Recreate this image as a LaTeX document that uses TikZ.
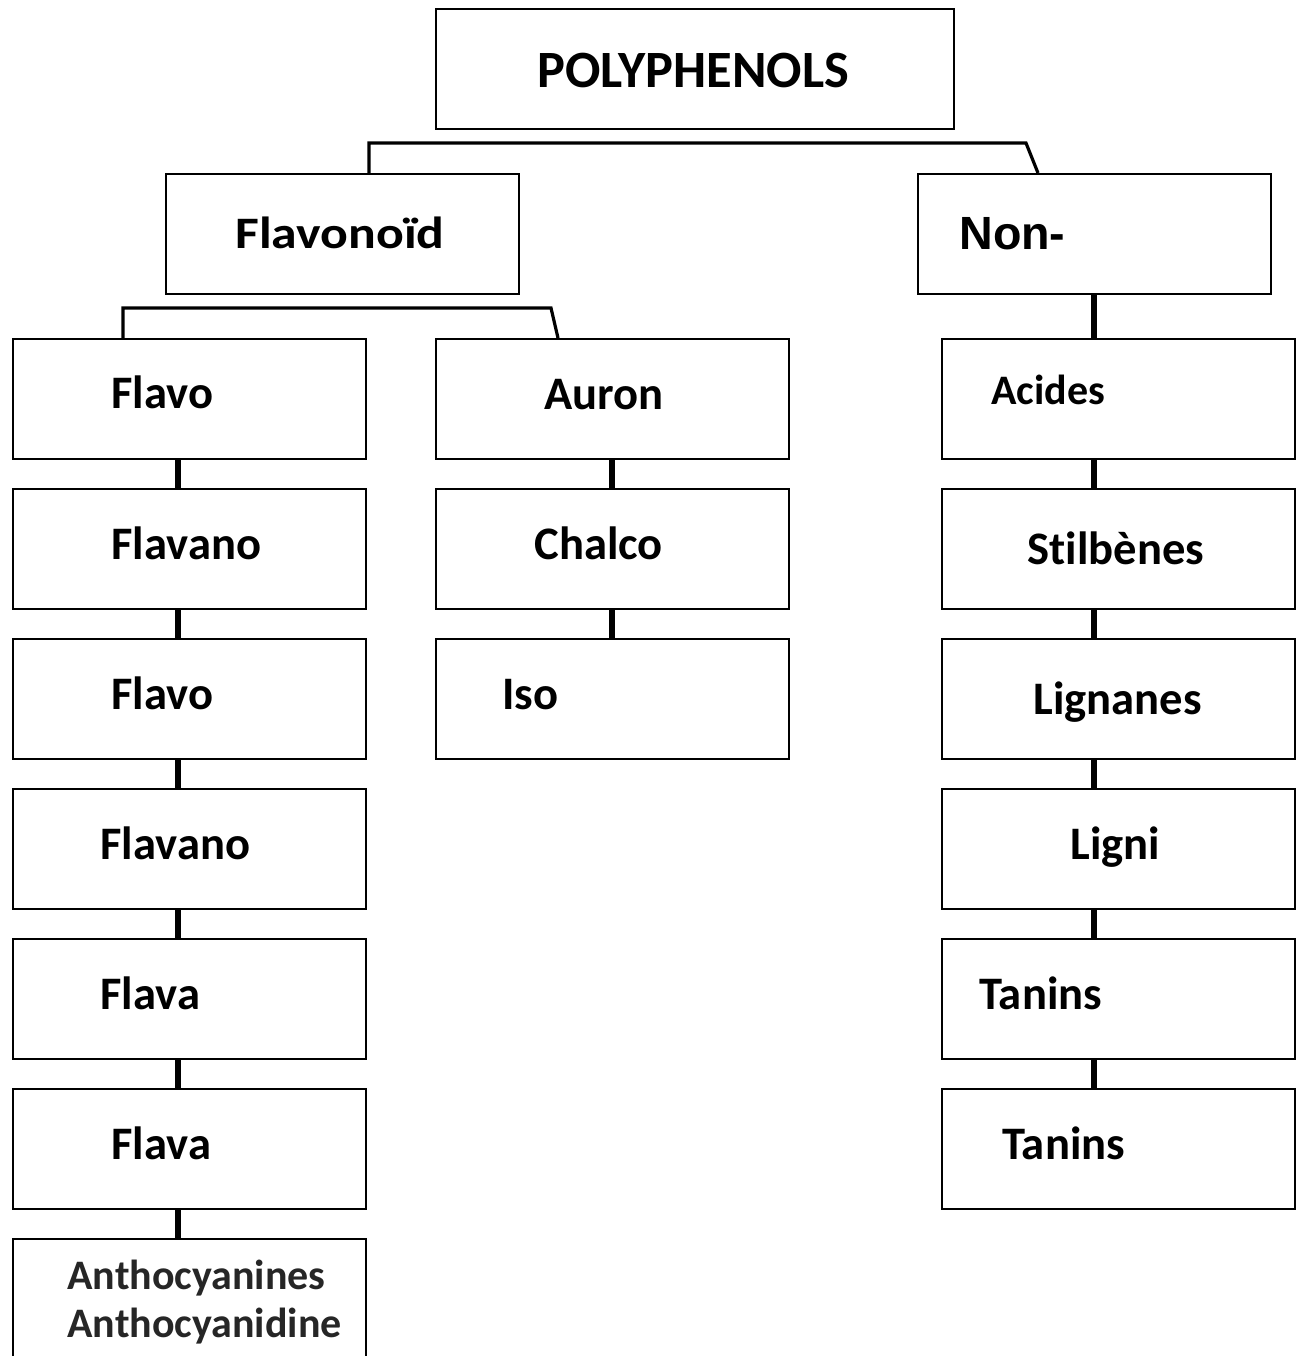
\documentclass[tikz,border=0pt]{standalone}
\usepackage{fontspec}
\setmainfont{Carlito}[Ligatures=NoCommon]
\newfontfamily\arialfont{Liberation Sans}
\usetikzlibrary{positioning}
\usetikzlibrary{calc}

\begin{document}
\begin{tikzpicture}[
  x=0.5pt, y=-0.5pt,
  box/.style={draw, line width=1.1pt, minimum width=176.5pt, minimum height=60pt, anchor=north west, inner sep=0pt},
  widebox/.style={box, minimum width=259pt},
  lbl/.style={font=\bfseries\fontsize{23.3}{28}\selectfont, anchor=base west, inner sep=0pt},
  smalllbl/.style={lbl, font=\bfseries\fontsize{21}{24}\selectfont},
  link/.style={line width=2.9pt},
  bracket/.style={line width=1.6pt, line join=miter}
]
\useasboundingbox (0,0) rectangle (1300,1356);

% Top level
\node[widebox] (poly) at (435,8) {};
\node[box] (flavonoid) at (165,173) {};
\node[box] (non) at (917,173) {};

% Flavonoid branch, left column
\node[box] (l1) at (12,338) {};
\node[box] (l2) at (12,488) {};
\node[box] (l3) at (12,638) {};
\node[box] (l4) at (12,788) {};
\node[box] (l5) at (12,938) {};
\node[box] (l6) at (12,1088) {};
\node[box] (l7) at (12,1238) {};

% Flavonoid branch, middle column
\node[box] (m1) at (435,338) {};
\node[box] (m2) at (435,488) {};
\node[box] (m3) at (435,638) {};

% Non-flavonoid branch
\node[box] (r1) at (941,338) {};
\node[box] (r2) at (941,488) {};
\node[box] (r3) at (941,638) {};
\node[box] (r4) at (941,788) {};
\node[box] (r5) at (941,938) {};
\node[box] (r6) at (941,1088) {};

% Texts
\node[lbl, font=\bfseries\fontsize{26.2}{30}\selectfont] (t-poly) at (537,87) {POLYPHENOLS};
\node[lbl, font=\bfseries\fontsize{22.5}{26}\selectfont] (t-flavonoid) at (235,248) {\scalebox{1.15}[1]{Flavonoïd}};
\node[lbl, font=\arialfont\bfseries\fontsize{23.3}{28}\selectfont] (t-non) at (959,249) {Non-};

\node[lbl] (t-l1) at (111,408) {Flavo};
\node[lbl] (t-l2) at (111,559) {Flavano};
\node[lbl] (t-l3) at (111,709) {Flavo};
\node[lbl] (t-l4) at (100,859) {Flavano};
\node[lbl] (t-l5) at (100,1009) {Flava};
\node[lbl] (t-l6) at (111,1159) {Flava};
\node[smalllbl, text=black!85, align=left] (t-l7) at (67,1337) {Anthocyanines\\Anthocyanidine};

\node[lbl] (t-m1) at (544,409) {Auron};
\node[lbl] (t-m2) at (534,559) {Chalco};
\node[lbl] (t-m3) at (502,709) {Iso};

\node[smalllbl] (t-r1) at (991,404) {Acides};
\node[lbl] (t-r2) at (1027,564) {Stilbènes};
\node[lbl] (t-r3) at (1033,714) {Lignanes};
\node[lbl] (t-r4) at (1070,859) {Ligni};
\node[lbl] (t-r5) at (979,1009) {Tanins};
\node[lbl] (t-r6) at (1002,1159) {Tanins};

% Brackets under the top boxes
\coordinate (top-l) at (369,143);
\coordinate (top-r) at (1026,143);
\draw[bracket] (top-l |- flavonoid.north) -- (top-l) -- (top-r) -- ($(non.north west)+(121,0)$);

\coordinate (sub-l) at (123,308);
\coordinate (sub-r) at (551,308);
\draw[bracket] (sub-l |- l1.north) -- (sub-l) -- (sub-r) -- ($(m1.north west)+(123,0)$);

% Vertical links
\coordinate (colL) at (178,0);
\coordinate (colM) at (612,0);
\coordinate (colR) at (1094,0);

\draw[link] (l1.south -| colL) -- (l2.north -| colL);
\draw[link] (l2.south -| colL) -- (l3.north -| colL);
\draw[link] (l3.south -| colL) -- (l4.north -| colL);
\draw[link] (l4.south -| colL) -- (l5.north -| colL);
\draw[link] (l5.south -| colL) -- (l6.north -| colL);
\draw[link] (l6.south -| colL) -- (l7.north -| colL);

\draw[link] (m1.south -| colM) -- (m2.north -| colM);
\draw[link] (m2.south -| colM) -- (m3.north -| colM);

\draw[link] (non.south -| colR) -- (r1.north -| colR);
\draw[link] (r1.south -| colR) -- (r2.north -| colR);
\draw[link] (r2.south -| colR) -- (r3.north -| colR);
\draw[link] (r3.south -| colR) -- (r4.north -| colR);
\draw[link] (r4.south -| colR) -- (r5.north -| colR);
\draw[link] (r5.south -| colR) -- (r6.north -| colR);

\end{tikzpicture}
\end{document}
